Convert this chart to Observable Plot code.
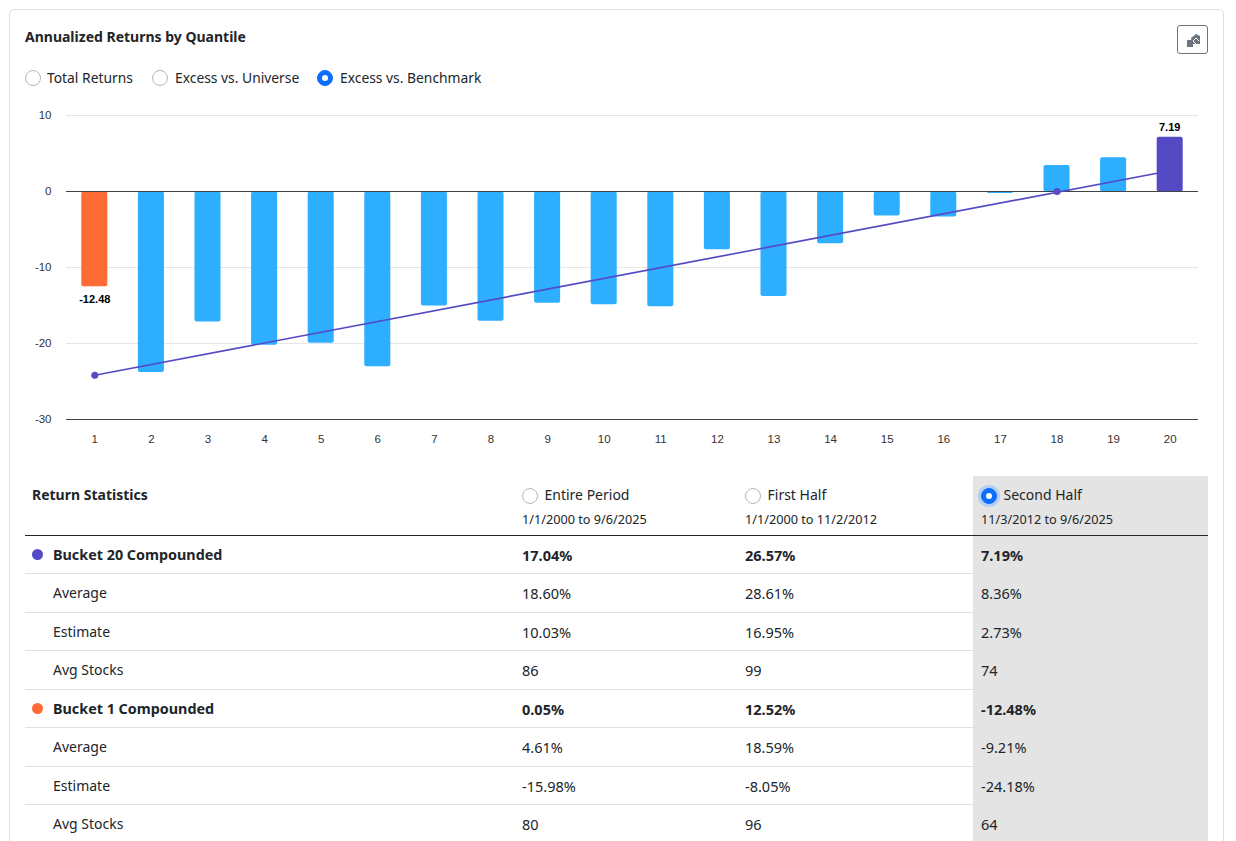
<!DOCTYPE html>
<html><head><meta charset="utf-8">
<script src="https://cdn.jsdelivr.net/npm/d3@7"></script>
<script src="https://cdn.jsdelivr.net/npm/@observablehq/plot@0.6"></script>
<style>
html,body{margin:0;padding:0;background:#fff;overflow:hidden;width:1236px;height:841px}
body{font-family:"Noto Sans",sans-serif;color:#212529;position:relative}
#card{position:absolute;left:9px;top:9px;width:1213px;height:900px;border:1px solid #dfdfdf;border-radius:5px;box-sizing:content-box}
.a{position:absolute;white-space:nowrap;line-height:20px}
#title{left:25px;top:27px;font-size:14px;font-weight:700}
.r{width:14px;height:14px;border-radius:50%;border:1px solid #b8b8b8;background:#fff;position:absolute;box-sizing:content-box}
.r.on{background:#0d6efd;border-color:#0d6efd}
.r.on::after{content:"";position:absolute;left:4px;top:4px;width:6px;height:6px;border-radius:50%;background:#fff}
.r.glow{box-shadow:0 0 0 3px #b3cdf3}
#chart{position:absolute;left:0;top:100px}
#chart svg{display:block}
#shade{position:absolute;left:973px;top:476px;width:235px;height:380px;background:#e4e4e4}
.line{position:absolute;left:25px;width:1183px;height:1px;background:#dee2e6}
.dot{position:absolute;left:32px;width:11px;height:11px;border-radius:50%}
#btn{position:absolute;left:1177px;top:25px;width:29px;height:27px;border:1px solid #6c757d;border-radius:3px}
</style></head><body>
<div id="card"></div>
<div class="a" id="title">Annualized Returns by Quantile</div>
<div id="btn"><svg width="29" height="27" viewBox="0 0 29 27"><path d="M9 14h6v7H9z" fill="#6c757d"/><path d="M13 12l5-4 4 2v8h-8z" fill="#6c757d"/><path d="M15 15l3-3 3 3M15 15l3 3" fill="none" stroke="#fff" stroke-width="1"/></svg></div>
<div id="radios"></div>
<div id="chart"></div>
<div id="shade"></div>
<div id="table"></div>
<script>
const buckets = ["1","2","3","4","5","6","7","8","9","10","11","12","13","14","15","16","17","18","19","20"];
const returns = [-12.48,-23.75,-17.1,-20.15,-19.9,-23,-15,-17,-14.65,-14.85,-15.1,-7.6,-13.75,-6.8,-3.15,-3.3,-0.2,3.5,4.5,7.19];
const trendBuckets = ["1","20"];
const trendValues = [-24.18,2.73];
const dotBuckets = ["1","18"];
const dotValues = [-24.18,0];
const yTicks = [10,0,-10,-20,-30];
const colorLow = "#ff6b35", colorHigh = "#544bc4", colorMid = "#2eaeff";

const rows = buckets.map((b,i)=>({b,v:returns[i]}));
const colorOf = b => b==="1"?colorLow:b==="20"?colorHigh:colorMid;
const trend = trendBuckets.map((b,i)=>({b,v:trendValues[i]}));
const labelStyle = {x:"b",y:"v",text:d=>String(d.v),fontSize:11,fontWeight:700,fill:"#000"};

const chart = Plot.plot({
  width:1236,height:350,marginLeft:66,marginRight:38,marginTop:15,marginBottom:31,
  style:{fontFamily:"'Liberation Sans',Arial,sans-serif",fontSize:"11.5px",color:"#333",background:"transparent",overflow:"visible"},
  x:{type:"band",domain:buckets,paddingInner:0.54,paddingOuter:0.27,round:false,label:null,tickSize:0,tickPadding:15},
  y:{domain:[-30,10],ticks:yTicks,tickFormat:d=>String(d),label:null,tickSize:0,tickPadding:15},
  marks:[
    Plot.gridY(yTicks,{stroke:"#e6e6e6",strokeOpacity:1}),
    Plot.barY(rows,{x:"b",y:"v",fill:d=>colorOf(d.b),rx:2,dy:0.5}),
    Plot.ruleY([0,-30],{stroke:"#444",strokeWidth:1}),
    Plot.line(trend,{x:"b",y:"v",stroke:colorHigh,strokeWidth:1.7}),
    Plot.dot(dotBuckets.map((b,i)=>({b,v:dotValues[i]})),{x:"b",y:"v",r:3.5,fill:colorHigh}),
    Plot.text(rows.filter(d=>d.b==="1"),{...labelStyle,dy:13}),
    Plot.text(rows.filter(d=>d.b==="20"),{...labelStyle,dy:-9.5,dx:-0.5})
  ]
});
document.getElementById("chart").appendChild(chart);

const radioTop = [["Total Returns",25,47,false],["Excess vs. Universe",152,175,false],["Excess vs. Benchmark",317,340,true]];
const radios = document.getElementById("radios");
radioTop.forEach(([t,rx,tx,on])=>{
  radios.insertAdjacentHTML("beforeend",`<div class="r${on?" on":""}" style="left:${rx}px;top:70px"></div><div class="a" style="left:${tx}px;top:68px;font-size:13.85px">${t}</div>`);
});

const periods = [["Entire Period","1/1/2000 to 9/6/2025",522,false],["First Half","1/1/2000 to 11/2/2012",745,false],["Second Half","11/3/2012 to 9/6/2025",981,true]];
const rowLabels = ["Bucket 20 Compounded","Average","Estimate","Avg Stocks","Bucket 1 Compounded","Average","Estimate","Avg Stocks"];
const entire = ["17.04%","18.60%","10.03%","86","0.05%","4.61%","-15.98%","80"];
const firstHalf = ["26.57%","28.61%","16.95%","99","12.52%","18.59%","-8.05%","96"];
const secondHalf = ["7.19%","8.36%","2.73%","74","-12.48%","-9.21%","-24.18%","64"];
const rowTops = [535,573,612,650,689,727,766,804];

let h = `<div class="a" style="left:32px;top:485px;font-size:14px;font-weight:700">Return Statistics</div>`;
periods.forEach(([t,s,x,on])=>{
  h += `<div class="r${on?" on glow":""}" style="left:${x}px;top:488px"></div><div class="a" style="left:${x+22.5}px;top:485px;font-size:14px">${t}</div><div class="a" style="left:${x}px;top:509px;font-size:12.7px">${s}</div>`;
});
rowLabels.forEach((l,i)=>{
  const y=rowTops[i], bold=i%4===0, w=bold?700:400;
  h += `<div class="line" style="top:${y}px;${i===0?"background:#212529":""}"></div>`;
  if(bold) h += `<div class="dot" style="top:${y+14}px;background:${i===0?colorHigh:colorLow}"></div>`;
  h += `<div class="a" style="left:53px;top:${y+10}px;font-size:${bold?14.35:14}px;font-weight:${w}">${l}</div>`;
  [entire,firstHalf,secondHalf].forEach((c,j)=>{
    h += `<div class="a" style="left:${periods[j][2]}px;top:${y+10}px;font-size:14.5px;font-weight:${w}">${c[i]}</div>`;
  });
});
document.getElementById("table").innerHTML = h;
</script>
</body></html>
